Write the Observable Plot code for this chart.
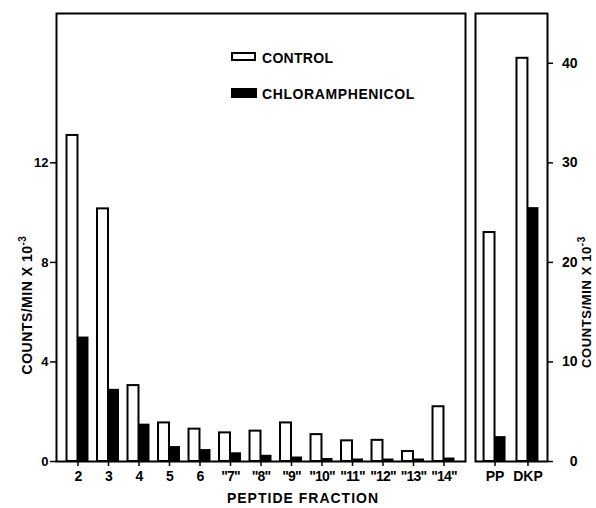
<!DOCTYPE html>
<html>
<head>
<meta charset="utf-8">
<script src="https://cdn.jsdelivr.net/npm/d3@7"></script>
<script src="https://cdn.jsdelivr.net/npm/@observablehq/plot@0.6"></script>
<style>
  body { margin: 0; background: #fff; }
  #wrap { position: relative; width: 596px; height: 508px; overflow: hidden;
          font-family: "Liberation Sans", Arial, sans-serif; font-weight: bold; color: #000; }
  #left { position: absolute; left: 0; top: 0; }
  #right { position: absolute; left: 470px; top: 0; }
  #left g[aria-label="x-axis tick label"] text { letter-spacing: -0.9px; }
  .lbl { position: absolute; white-space: nowrap; font-size: 14px; line-height: 1; }
  .rot { transform: translate(-50%, -50%) rotate(-90deg); }
  .ctr { transform: translate(-50%, -50%); }
  .sw { position: absolute; box-sizing: border-box; }
  sup { font-size: 10px; vertical-align: 6px; line-height: 0; }
</style>
</head>
<body>
<div id="wrap">
  <div id="left"></div>
  <div id="right"></div>
  <div class="sw" style="left:231px;top:52px;width:25px;height:9px;border:2px solid #000;background:#fff;"></div>
  <div class="lbl" style="left:262px;top:51px;letter-spacing:0.3px;">CONTROL</div>
  <div class="sw" style="left:231px;top:88px;width:26px;height:10px;background:#000;"></div>
  <div class="lbl" style="left:262px;top:87px;letter-spacing:0.6px;">CHLORAMPHENICOL</div>
  <div class="lbl ctr" style="left:303px;top:498px;letter-spacing:1px;">PEPTIDE FRACTION</div>
  <div class="lbl rot" style="left:27px;top:305px;letter-spacing:0.5px;">COUNTS/MIN X 10<sup>-3</sup></div>
  <div class="lbl rot" style="left:586px;top:302px;font-size:13px;letter-spacing:0.6px;">COUNTS/MIN X 10<sup>-3</sup></div>
</div>
<script>
// ---- data ----
const fractions = ["2", "3", "4", "5", "6", "\"7\"", "\"8\"", "\"9\"", "\"10\"", "\"11\"", "\"12\"", "\"13\"", "\"14\""];
const controlFractions = [13.1, 10.15, 3.05, 1.55, 1.3, 1.15, 1.22, 1.55, 1.08, 0.83, 0.85, 0.4, 2.2];
const chloramphenicolFractions = [5.0, 2.9, 1.5, 0.6, 0.48, 0.35, 0.25, 0.18, 0.12, 0.1, 0.1, 0.1, 0.14];
const products = ["PP", "DKP"];
const controlProducts = [23.0, 40.5];
const chloramphenicolProducts = [2.5, 25.5];
const leftTicks = [0, 4, 8, 12];
const rightTicks = [0, 10, 20, 30, 40];

const leftData = fractions.map((f, i) => ({f, control: controlFractions[i], chl: chloramphenicolFractions[i]}));
const rightData = products.map((p, i) => ({p, control: controlProducts[i], chl: chloramphenicolProducts[i]}));

const style = {fontFamily: "'Liberation Sans', Arial, sans-serif", fontWeight: "bold", fontSize: "13px", color: "#000", background: "transparent", overflow: "visible"};

const left = Plot.plot({
  width: 470, height: 508,
  marginLeft: 56, marginRight: 5, marginTop: 13, marginBottom: 47,
  style,
  x: {domain: fractions, paddingInner: 0.28, paddingOuter: 0.345, round: false},
  y: {domain: [0, 18]},
  marks: [
    Plot.barY(leftData, {x: "f", y: "control", fill: "white", stroke: "black", strokeWidth: 2, insetRight: 11}),
    Plot.barY(leftData, {x: "f", y: "chl", fill: "black", insetLeft: 11}),
    Plot.frame({stroke: "black", strokeWidth: 2}),
    Plot.axisY({ticks: leftTicks, tickSize: 6, tickPadding: 2, label: null, fontSize: 13, strokeWidth: 1.5}),
    Plot.axisX({tickSize: 5, tickPadding: 5, label: null, fontSize: 14, strokeWidth: 1.5})
  ]
});
document.getElementById("left").append(left);

const right = Plot.plot({
  width: 126, height: 508,
  marginLeft: 5, marginRight: 49, marginTop: 13, marginBottom: 47,
  style,
  x: {domain: products, paddingInner: 0.333, paddingOuter: 0.26, round: false},
  y: {domain: [0, 45]},
  marks: [
    Plot.barY(rightData, {x: "p", y: "control", fill: "white", stroke: "black", strokeWidth: 2, insetRight: 11}),
    Plot.barY(rightData, {x: "p", y: "chl", fill: "black", insetLeft: 11}),
    Plot.frame({stroke: "black", strokeWidth: 2}),
    Plot.axisY({anchor: "right", ticks: rightTicks, tickSize: 5, tickPadding: 25, textAnchor: "end", label: null, fontSize: 14, strokeWidth: 1.5}),
    Plot.axisX({tickSize: 5, tickPadding: 5, label: null, fontSize: 14, strokeWidth: 1.5})
  ]
});
document.getElementById("right").append(right);
</script>
</body>
</html>
